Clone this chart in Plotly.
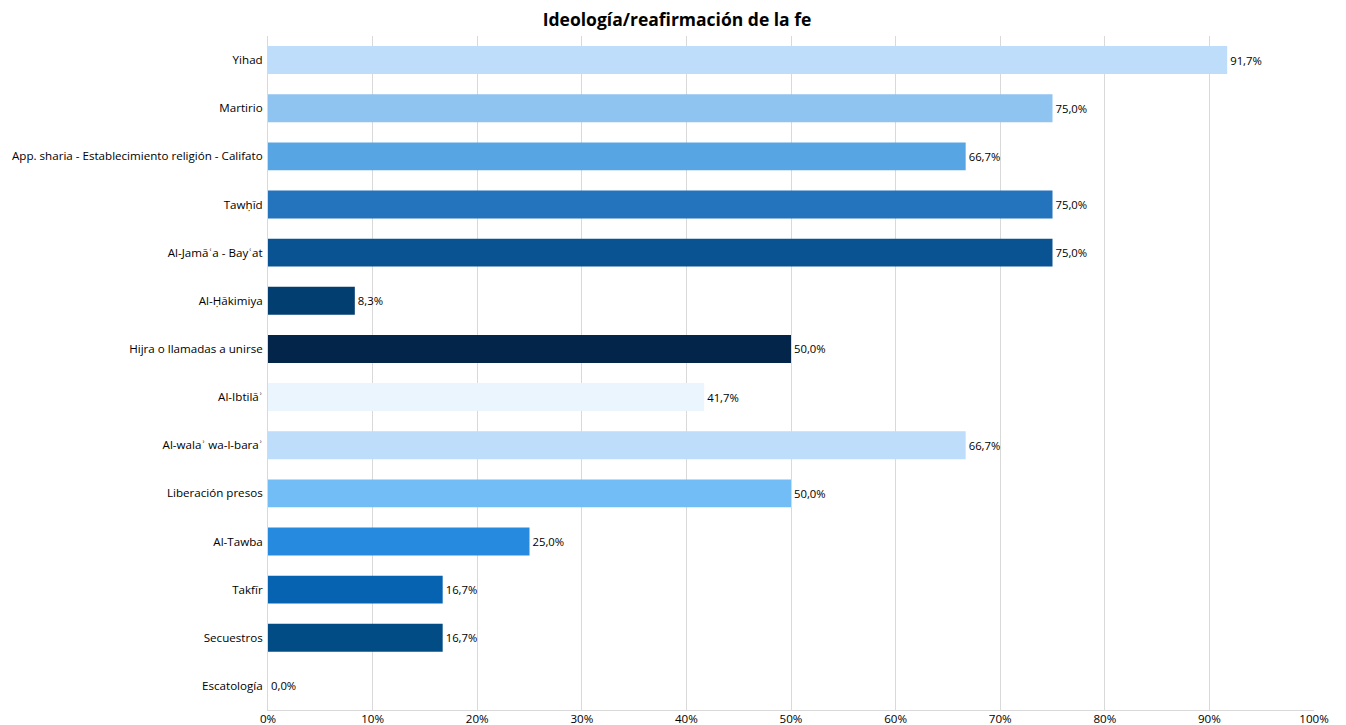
import plotly.graph_objects as go

categories = ["Yihad", "Martirio", "App. sharia - Establecimiento religión - Califato",
              "Tawḥīd", "Al-Jamāʿa - Bayʿat", "Al-Ḥākimiya", "Hijra o llamadas a unirse",
              "Al-Ibtilāʾ", "Al-walaʾ wa-l-baraʾ", "Liberación presos", "Al-Tawba",
              "Takfīr", "Secuestros", "Escatología"]
values = [0.917, 0.75, 0.667, 0.75, 0.75, 0.083, 0.50, 0.417, 0.667, 0.50, 0.25, 0.167, 0.167, 0.0]
colors = ["#BDDDFA", "#8FC3F0", "#58A5E3", "#2373BD", "#0A5393", "#023E70", "#03254A",
          "#EBF5FD", "#BDDDFA", "#72BDF6", "#268BDF", "#0563B2", "#024C86", "#9FCFF5"]
x_ticks = [0, 0.1, 0.2, 0.3, 0.4, 0.5, 0.6, 0.7, 0.8, 0.9, 1.0]

FONT = "Open Sans"

fig = go.Figure(go.Bar(
    x=values, y=categories, orientation="h",
    marker=dict(color=colors, line=dict(width=0)),
    width=0.58,
    text=values, texttemplate="%{x:.1%}", textposition="outside",
    textfont=dict(family=FONT, size=11.3, color="#000000"),
    cliponaxis=False,
))

fig.update_layout(
    width=1346, height=725,
    paper_bgcolor="white", plot_bgcolor="white",
    margin=dict(l=268, r=32, t=36, b=15),
    separators=",.",
    title=dict(text="<b>Ideología/reafirmación de la fe</b>", x=0.503, xanchor="center",
               y=0.972, yanchor="middle", font=dict(family=FONT, size=17.5, color="#000000")),
    font=dict(family=FONT, size=11.6, color="#000000"),
    showlegend=False,
    bargap=0.42,
)
fig.update_xaxes(range=[0, 1], tickvals=x_ticks, tickformat=".0%",
                 showgrid=True, gridcolor="#D9D9D9", gridwidth=1,
                 showline=True, linecolor="#D9D9D9", linewidth=1,
                 ticks="", zeroline=False, automargin=False, ticklabelstandoff=-2,
                 tickfont=dict(family=FONT, size=11.6, color="#000000"))
fig.update_yaxes(categoryorder="array", categoryarray=categories, autorange="reversed",
                 showline=True, linecolor="#D9D9D9", linewidth=1, showgrid=False,
                 ticks="", automargin=False, ticklabelstandoff=2,
                 tickfont=dict(family=FONT, size=11.6, color="#000000"))

fig.write_html("out.html", config={"displayModeBar": False},
               post_script="document.body.style.margin='0';document.body.style.overflow='hidden';")
